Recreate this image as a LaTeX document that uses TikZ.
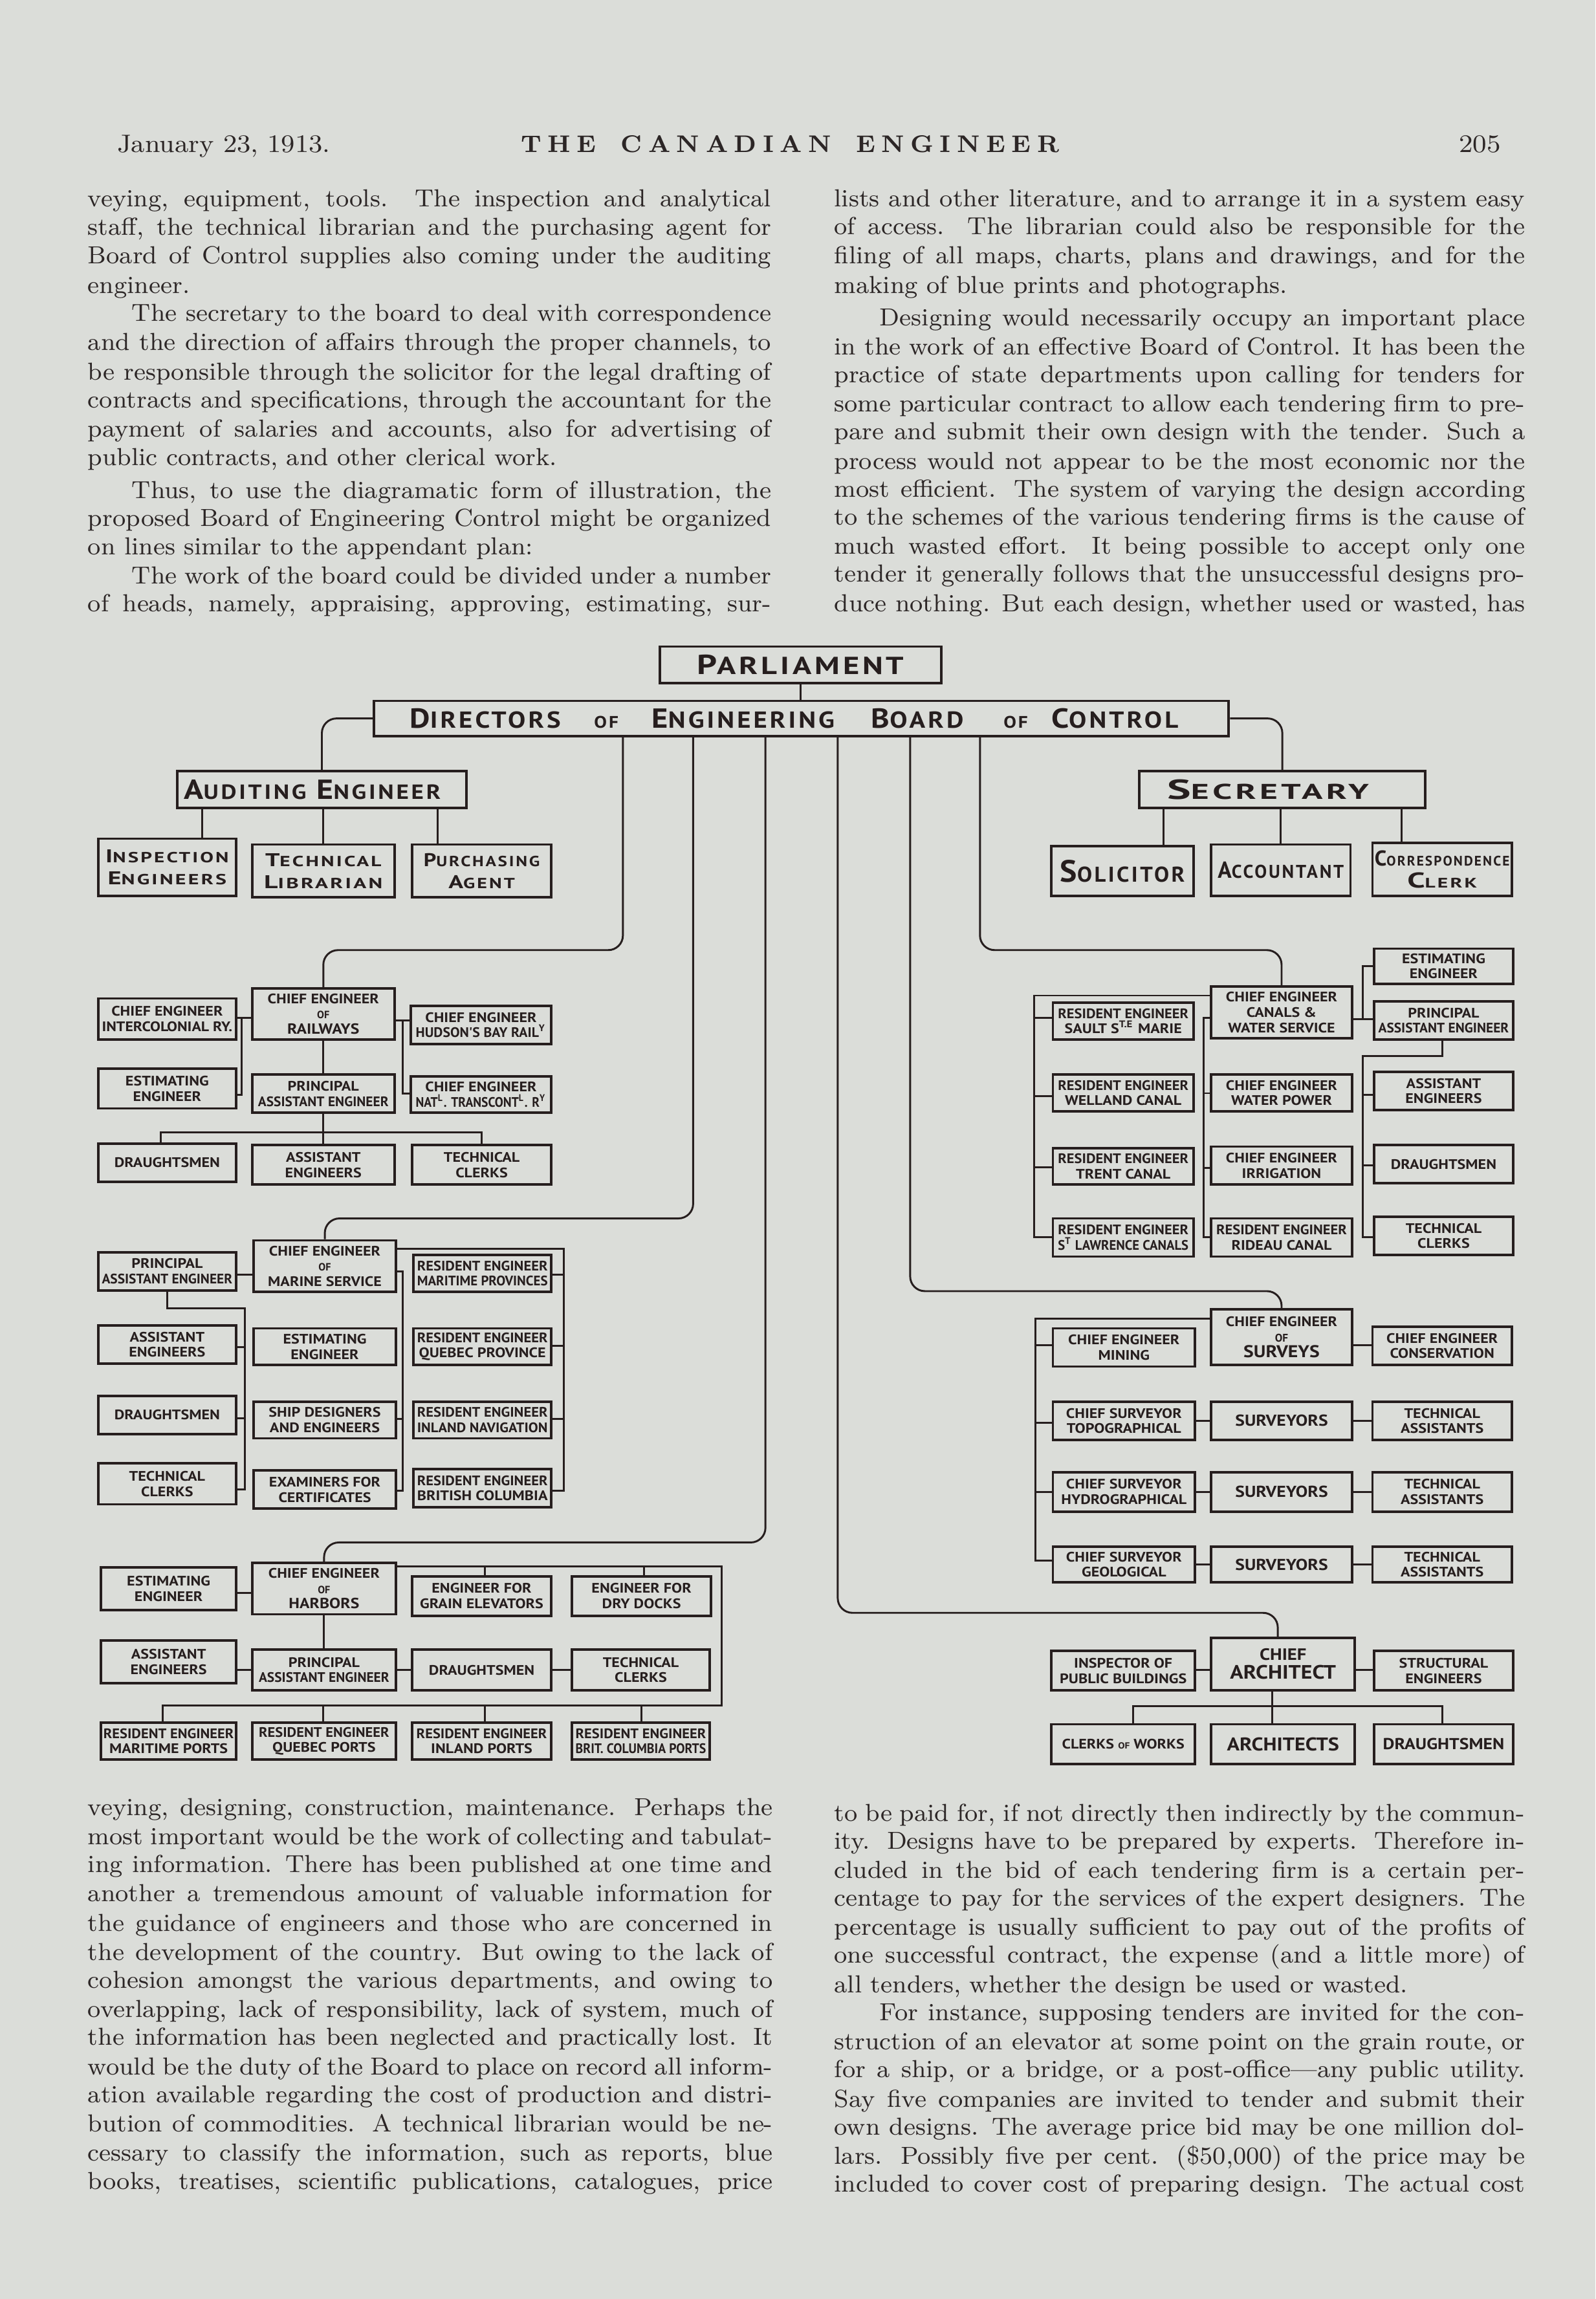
\documentclass[tikz,border=0pt]{standalone}
\usepackage{fontspec}
\usepackage{graphicx}
\newfontfamily\dg{PT Sans}
\newfontfamily\dgs[LetterSpace=10]{PT Sans}
\definecolor{paper}{RGB}{219,221,217}
\definecolor{ink}{RGB}{38,30,30}
\definecolor{textc}{RGB}{44,38,38}
\newsavebox\mybox
\newcommand\fs[1]{\fontsize{#1}{#1}\selectfont}
\newcommand\mx[2]{\sbox\mybox{\scalebox{1.13}[1]{#2}}\ifdim\wd\mybox>#1\relax\resizebox{#1}{\height}{\usebox\mybox}\else\usebox\mybox\fi}
\newcommand\fw[2]{\resizebox{#1}{\height}{#2}}
\newcommand\LB[2]{\mx{44.5pt}{#1}\\\mx{44.5pt}{#2}}
\newcommand\LA[1]{\mx{44.5pt}{#1}}
\newcommand\bx[7][]{\node[box,minimum width={(#5-#3)*0.5pt},minimum height={(#6-#4)*0.5pt},#1] (#2) at ({(#3+#5)/2},{(#4+#6)/2}) {#7};}
\newcommand\JL[5]{\node[body] (#1) at (#2,#3) {\makebox[#4pt][s]{#5}};}
\newcommand\LL[4]{\node[body] (#1) at (#2,#3) {#4};}
\begin{document}
\begin{tikzpicture}[x=0.5pt,y=-0.5pt,
 box/.style={draw=ink,line width=0.85pt,inner sep=0.2pt,align=center,text=ink,font=\dg\bfseries\fontsize{4.7}{5.2}\selectfont},
 big/.style={font=\dgs\bfseries\fontsize{6}{7.4}\selectfont},
 ln/.style={draw=ink,line width=0.65pt},
 rc/.style={ln,rounded corners=5pt},
 body/.style={anchor=base west,inner sep=0pt,outer sep=0pt,text=textc,font=\fontsize{8.4}{9.8}\selectfont},
]
\fill[paper] (0,0) rectangle (1088,1568);
\useasboundingbox (0,0) rectangle (1088,1568);

% ---------- header ----------
\node[anchor=base west,inner sep=0pt,text=textc,font=\fontsize{8.6}{10}\selectfont] (date) at (79.5,104) {\fw{72.7pt}{January 23, 1913.}};
\node[anchor=base west,inner sep=0pt,text=textc,font=\bfseries\fontsize{8.2}{9}\selectfont] (title) at (355,104) {\hbox to 183.5pt{T\hfil H\hfil E\hskip0pt plus4fil C\hfil A\hfil N\hfil A\hfil D\hfil I\hfil A\hfil N\hskip0pt plus4fil E\hfil N\hfil G\hfil I\hfil N\hfil E\hfil E\hfil R}};
\node[anchor=base west,inner sep=0pt,text=textc,font=\fontsize{8.6}{10}\selectfont] (pno) at (994.6,104) {\fw{14.2pt}{205}};

% ---------- top-left column ----------
\JL{a1}{60}{141}{233}{veying, equipment, tools. The inspection and analytical}
\JL{a2}{60}{160.5}{233}{staff, the technical librarian and the purchasing agent for}
\JL{a3}{60}{180}{233}{Board of Control supplies also coming under the auditing}
\LL{a4}{60}{200}{engineer.}
\JL{a5}{90}{219}{218}{The secretary to the board to deal with correspondence}
\JL{a6}{60}{239}{233}{and the direction of affairs through the proper channels, to}
\JL{a7}{60}{259}{233}{be responsible through the solicitor for the legal drafting of}
\JL{a8}{60}{278}{233}{contracts and specifications, through the accountant for the}
\JL{a9}{60}{298}{233}{payment of salaries and accounts, also for advertising of}
\LL{a10}{60}{317.5}{public contracts, and other clerical work.}
\JL{a11}{90}{340}{218}{Thus, to use the diagramatic form of illustration, the}
\JL{a12}{60}{359}{233}{proposed Board of Engineering Control might be organized}
\LL{a13}{60}{378.5}{on lines similar to the appendant plan:}
\JL{a14}{90}{398}{218}{The work of the board could be divided under a number}
\JL{a15}{60}{417}{233}{of heads, namely, appraising, approving, estimating, sur-}

% ---------- top-right column ----------
\JL{b1}{569}{141}{235.5}{lists and other literature, and to arrange it in a system easy}
\JL{b2}{569}{160}{235.5}{of access. The librarian could also be responsible for the}
\JL{b3}{569}{180}{235.5}{filing of all maps, charts, plans and drawings, and for the}
\LL{b4}{569}{200}{making of blue prints and photographs.}
\JL{b5}{600}{222}{220}{Designing would necessarily occupy an important place}
\JL{b6}{569}{242}{235.5}{in the work of an effective Board of Control. It has been the}
\JL{b7}{569}{261}{235.5}{practice of state departments upon calling for tenders for}
\JL{b8}{569}{281}{235.5}{some particular contract to allow each tendering firm to pre-}
\JL{b9}{569}{300}{235.5}{pare and submit their own design with the tender. Such a}
\JL{b10}{569}{320}{235.5}{process would not appear to be the most economic nor the}
\JL{b11}{569}{339}{235.5}{most efficient. The system of varying the design according}
\JL{b12}{569}{358}{235.5}{to the schemes of the various tendering firms is the cause of}
\JL{b13}{569}{378}{235.5}{much wasted effort. It being possible to accept only one}
\JL{b14}{569}{397}{235.5}{tender it generally follows that the unsuccessful designs pro-}
\JL{b15}{569}{417}{235.5}{duce nothing. But each design, whether used or wasted, has}

% ---------- bottom-left column ----------
\JL{c1}{60}{1238}{233.5}{veying, designing, construction, maintenance. Perhaps the}
\JL{c2}{60}{1258}{233.5}{most important would be the work of collecting and tabulat-}
\JL{c3}{60}{1277}{233.5}{ing information. There has been published at one time and}
\JL{c4}{60}{1297}{233.5}{another a tremendous amount of valuable information for}
\JL{c5}{60}{1317}{233.5}{the guidance of engineers and those who are concerned in}
\JL{c6}{60}{1337}{233.5}{the development of the country. But owing to the lack of}
\JL{c7}{60}{1356}{233.5}{cohesion amongst the various departments, and owing to}
\JL{c8}{60}{1376}{233.5}{overlapping, lack of responsibility, lack of system, much of}
\JL{c9}{60}{1395}{233.5}{the information has been neglected and practically lost. It}
\JL{c10}{60}{1415}{233.5}{would be the duty of the Board to place on record all inform-}
\JL{c11}{60}{1434}{233.5}{ation available regarding the cost of production and distri-}
\JL{c12}{60}{1454}{233.5}{bution of commodities. A technical librarian would be ne-}
\JL{c13}{60}{1474}{233.5}{cessary to classify the information, such as reports, blue}
\JL{c14}{60}{1493}{233.5}{books, treatises, scientific publications, catalogues, price}

% ---------- bottom-right column ----------
\JL{d1}{569}{1242}{235.5}{to be paid for, if not directly then indirectly by the commun-}
\JL{d2}{569}{1261}{235.5}{ity. Designs have to be prepared by experts. Therefore in-}
\JL{d3}{569}{1281}{235.5}{cluded in the bid of each tendering firm is a certain per-}
\JL{d4}{569}{1300}{235.5}{centage to pay for the services of the expert designers. The}
\JL{d5}{569}{1320}{235.5}{percentage is usually sufficient to pay out of the profits of}
\JL{d6}{569}{1339}{235.5}{one successful contract, the expense (and a little more) of}
\LL{d7}{569}{1359}{all tenders, whether the design be used or wasted.}
\JL{d8}{600}{1378}{220}{For instance, supposing tenders are invited for the con-}
\JL{d9}{569}{1398}{235.5}{struction of an elevator at some point on the grain route, or}
\JL{d10}{569}{1417}{235.5}{for a ship, or a bridge, or a post-office---any public utility.}
\JL{d11}{569}{1437}{235.5}{Say five companies are invited to tender and submit their}
\JL{d12}{569}{1456}{235.5}{own designs. The average price bid may be one million dol-}
\JL{d13}{569}{1476}{235.5}{lars. Possibly five per cent. (\$50,000) of the price may be}
\JL{d14}{569}{1495}{235.5}{included to cover cost of preparing design. The actual cost}

% ---------- top of chart ----------
\bx[big]{parl}{450}{441}{642}{466}{\fw{70.5pt}{\fs{9.4}P\fs{8.4}ARLIAMENT}}
\bx[big]{dir}{255}{478}{838}{502}{\fw{262pt}{\fs{9.4}D\fs{7.9}IRECTORS\hspace{10pt}\fs{5.7}OF\hspace{10pt}\fs{9.4}E\fs{7.9}NGINEERING\hspace{11pt}\fs{9.4}B\fs{7.9}OARD\hspace{12pt}\fs{5.7}OF\hspace{7pt}\fs{9.4}C\fs{7.9}ONTROL}\hspace{5pt}}
\bx[big]{aud}{121}{526}{318}{551}{\fw{87.5pt}{\fs{9.4}A\fs{7}UDITING\hspace{3pt}\fs{9.4}E\fs{7}NGINEER}\hspace{6.5pt}}
\bx[big]{sec}{777}{526}{972}{551}{\fw{68.7pt}{\fs{9.4}S\fs{7.3}ECRETARY}\hspace{9.7pt}}
\bx[big]{insp}{67}{572}{161}{611}{\fw{42pt}{\fs{6.3}I\fs{5}NSPECTION}\\\fw{40.5pt}{\fs{6.3}E\fs{5}NGINEERS}}
\bx[big]{tlib}{172}{576}{269}{612}{\fw{39.6pt}{\fs{6.3}T\fs{5}ECHNICAL}\\\fw{40.4pt}{\fs{6.3}L\fs{5}IBRARIAN}}
\bx[big]{purch}{281}{576}{376}{612}{\fw{39.6pt}{\fs{6.3}P\fs{5}URCHASING}\\\fw{22.6pt}{\fs{6.3}A\fs{5}GENT}}
\bx[big]{sol}{717}{577}{814}{611}{\fw{42.5pt}{\fs{10.5}S\fs{7.3}OLICITOR}}
\bx[big]{acc}{826}{576}{921}{611}{\fw{43pt}{\fs{7.9}A\fs{6.3}CCOUNTANT}}
\bx[big]{corr}{936}{575}{1031}{611}{\fw{46pt}{\fs{7.3}C\fs{4.7}ORRESPONDENCE}\\\fw{23.8pt}{\fs{7.3}C\fs{4.7}LERK}}

% ---------- railways ----------
\bx{rw}{172}{674}{269}{709}{\mx{44.5pt}{CHIEF ENGINEER}\\{\fs{3.6}OF}\\\mx{44.5pt}{\fs{5}RAILWAYS}}
\bx{icr}{67}{681}{161}{709}{\LB{CHIEF ENGINEER}{INTERCOLONIAL RY.}}
\bx{est1}{67}{729}{161}{756}{\LB{ESTIMATING}{ENGINEER}}
\bx{hbr}{280}{686}{376}{712}{\LB{CHIEF ENGINEER}{HUDSON'S BAY RAIL\textsuperscript{Y}}}
\bx{ntr}{280}{734}{376}{759}{\LB{CHIEF ENGINEER}{NAT\textsuperscript{L}. TRANSCONT\textsuperscript{L}. R\textsuperscript{Y}}}
\bx{pae1}{172}{733}{269}{759}{\LB{PRINCIPAL}{ASSISTANT ENGINEER}}
\bx{dr1}{67}{780}{161}{806}{\LA{DRAUGHTSMEN}}
\bx{ae1}{172}{781}{269}{808}{\LB{ASSISTANT}{ENGINEERS}}
\bx{tc1}{281}{781}{376}{808}{\LB{TECHNICAL}{CLERKS}}

% ---------- canals ----------
\bx{can}{826}{673}{922}{708}{\mx{44.5pt}{CHIEF ENGINEER}\\\mx{44.5pt}{CANALS \&}\\\mx{44.5pt}{WATER SERVICE}}
\bx{rsm}{718}{684}{814}{709}{\LB{RESIDENT ENGINEER}{SAULT S\textsuperscript{T.E} MARIE}}
\bx{rwc}{718}{733}{814}{758}{\LB{RESIDENT ENGINEER}{WELLAND CANAL}}
\bx{rtc}{718}{783}{814}{808}{\LB{RESIDENT ENGINEER}{TRENT CANAL}}
\bx{rsl}{718}{831}{814}{857}{\LB{RESIDENT ENGINEER}{S\textsuperscript{T} LAWRENCE CANALS}}
\bx{wp}{826}{733}{922}{758}{\LB{CHIEF ENGINEER}{WATER POWER}}
\bx{irr}{826}{782}{922}{808}{\LB{CHIEF ENGINEER}{IRRIGATION}}
\bx{rrc}{826}{831}{922}{857}{\LB{RESIDENT ENGINEER}{RIDEAU CANAL}}
\bx{est2}{937}{647}{1032}{671}{\LB{ESTIMATING}{ENGINEER}}
\bx{pae2}{937}{683}{1032}{709}{\LB{PRINCIPAL}{ASSISTANT ENGINEER}}
\bx{ae2}{937}{731}{1032}{757}{\LB{ASSISTANT}{ENGINEERS}}
\bx{dr2}{937}{781}{1032}{807}{\LA{DRAUGHTSMEN}}
\bx{tc2}{937}{830}{1032}{856}{\LB{TECHNICAL}{CLERKS}}

% ---------- marine ----------
\bx{mar}{173}{846}{270}{881}{\mx{44.5pt}{CHIEF ENGINEER}\\{\fs{3.6}OF}\\\mx{44.5pt}{MARINE SERVICE}}
\bx{pae3}{67}{854}{161}{880}{\LB{PRINCIPAL}{ASSISTANT ENGINEER}}
\bx{ae3}{67}{904}{161}{930}{\LB{ASSISTANT}{ENGINEERS}}
\bx{dr3}{67}{952}{161}{978}{\LA{DRAUGHTSMEN}}
\bx{tc3}{67}{998}{161}{1026}{\LB{TECHNICAL}{CLERKS}}
\bx{est3}{173}{906}{270}{931}{\LB{ESTIMATING}{ENGINEER}}
\bx{ship}{173}{956}{270}{981}{\LB{SHIP DESIGNERS}{AND ENGINEERS}}
\bx{exam}{173}{1003}{270}{1029}{\LB{EXAMINERS FOR}{CERTIFICATES}}
\bx{rmp}{282}{856}{376}{881}{\LB{RESIDENT ENGINEER}{MARITIME PROVINCES}}
\bx{rqp}{282}{906}{376}{931}{\LB{RESIDENT ENGINEER}{QUEBEC PROVINCE}}
\bx{rin}{282}{956}{376}{981}{\LB{RESIDENT ENGINEER}{INLAND NAVIGATION}}
\bx{rbc}{282}{1002}{376}{1028}{\LB{RESIDENT ENGINEER}{BRITISH COLUMBIA}}

% ---------- surveys ----------
\bx{sur}{826}{893}{922}{931}{\mx{44.5pt}{CHIEF ENGINEER}\\{\fs{3.8}OF}\\\mx{44.5pt}{\fs{5.8}SURVEYS}}
\bx{min}{718}{906}{815}{932}{\LB{CHIEF ENGINEER}{MINING}}
\bx{topo}{718}{956}{815}{982}{\LB{CHIEF SURVEYOR}{TOPOGRAPHICAL}}
\bx{hydro}{718}{1004}{815}{1031}{\LB{CHIEF SURVEYOR}{HYDROGRAPHICAL}}
\bx{geo}{718}{1055}{815}{1079}{\LB{CHIEF SURVEYOR}{GEOLOGICAL}}
\bx[font=\dg\bfseries\fs{5.4}]{sv1}{826}{956}{922}{982}{\LA{SURVEYORS}}
\bx[font=\dg\bfseries\fs{5.4}]{sv2}{826}{1004}{922}{1031}{\LA{SURVEYORS}}
\bx[font=\dg\bfseries\fs{5.4}]{sv3}{826}{1055}{922}{1079}{\LA{SURVEYORS}}
\bx{cons}{936}{905}{1031}{931}{\LB{CHIEF ENGINEER}{CONSERVATION}}
\bx{ta1}{936}{956}{1031}{982}{\LB{TECHNICAL}{ASSISTANTS}}
\bx{ta2}{936}{1004}{1031}{1031}{\LB{TECHNICAL}{ASSISTANTS}}
\bx{ta3}{936}{1055}{1031}{1079}{\LB{TECHNICAL}{ASSISTANTS}}

% ---------- harbors ----------
\bx{har}{172}{1066}{270}{1101}{\mx{44.5pt}{CHIEF ENGINEER}\\{\fs{3.6}OF}\\\mx{44.5pt}{\fs{5}HARBORS}}
\bx{est4}{69}{1069}{161}{1098}{\LB{ESTIMATING}{ENGINEER}}
\bx{ge}{281}{1075}{376}{1102}{\LB{ENGINEER FOR}{GRAIN ELEVATORS}}
\bx{dd}{390}{1075}{485}{1102}{\LB{ENGINEER FOR}{DRY DOCKS}}
\bx{ae4}{69}{1119}{161}{1148}{\LB{ASSISTANT}{ENGINEERS}}
\bx{pae4}{172}{1125}{270}{1153}{\LB{PRINCIPAL}{ASSISTANT ENGINEER}}
\bx{dr4}{281}{1125}{376}{1153}{\LA{DRAUGHTSMEN}}
\bx{tc4}{390}{1125}{484}{1153}{\LB{TECHNICAL}{CLERKS}}
\bx{rmp2}{69}{1175}{161}{1200}{\LB{RESIDENT ENGINEER}{MARITIME PORTS}}
\bx{rqp2}{172}{1175}{270}{1200}{\LB{RESIDENT ENGINEER}{QUEBEC PORTS}}
\bx{rip}{281}{1175}{376}{1200}{\LB{RESIDENT ENGINEER}{INLAND PORTS}}
\bx{rbcp}{390}{1175}{484}{1200}{\LB{RESIDENT ENGINEER}{BRIT. COLUMBIA PORTS}}

% ---------- architect ----------
\bx{arch}{826}{1117}{924}{1153}{\mx{44.5pt}{\fs{5.6}CHIEF}\\[1.2pt]\mx{44.5pt}{\fs{6.6}ARCHITECT}}
\bx{ipb}{717}{1126}{815}{1153}{\LB{INSPECTOR OF}{PUBLIC BUILDINGS}}
\bx{se}{937}{1126}{1032}{1153}{\LB{STRUCTURAL}{ENGINEERS}}
\bx{cow}{717}{1176}{815}{1203}{\LA{CLERKS {\fs{3}OF} WORKS}}
\bx[font=\dg\bfseries\fs{6.3}]{archs}{826}{1176}{924}{1203}{\LA{ARCHITECTS}}
\bx[font=\dg\bfseries\fs{5.4}]{dr5}{937}{1176}{1032}{1203}{\LA{DRAUGHTSMEN}}

% ---------- connectors: top ----------
\draw[ln] (parl.south) -- (parl.south |- dir.north);
\draw[rc] (dir.west) -| (aud.north);
\draw[rc] (dir.east) -| (sec.north);
\draw[ln] (138,0 |- aud.south) -- (138,0 |- insp.north);
\draw[ln] (tlib.north |- aud.south) -- (tlib.north);
\draw[ln] (298.6,0 |- aud.south) -- (298.6,0 |- purch.north);
\draw[ln] (793.6,0 |- sec.south) -- (793.6,0 |- sol.north);
\draw[ln] (acc.north |- sec.south) -- (acc.north);
\draw[ln] (956,0 |- sec.south) -- (956,0 |- corr.north);

% from directors to the chiefs
\draw[rc] (424.8,0 |- dir.south) -- (424.8,648) -- (220.5,648) -- (rw.north);
\draw[rc] (472.7,0 |- dir.south) -- (472.7,831) -- (221.5,831) -- (mar.north);
\draw[rc] (522,0 |- dir.south) -- (522,1052) -- (221,1052) -- (har.north);
\draw[rc] (571.3,0 |- dir.south) -- (571.3,1100) -- (871.4,1100) -- (871.4,0 |- arch.north);
\draw[rc] (620.7,0 |- dir.south) -- (620.7,880.6) -- (874,880.6) -- (sur.north);
\draw[rc] (668.3,0 |- dir.south) -- (668.3,648) -- (874,648) -- (can.north);

% railways
\draw[ln] (icr.east |- 0,694.4) -- (rw.west |- 0,694.4);
\draw[ln] (164.9,694.4) -- (164.9,746.7) -- (est1.east |- 0,746.7);
\draw[ln] (rw.east |- 0,696) -- (hbr.west |- 0,696);
\draw[ln] (274.7,696) -- (274.7,746) -- (ntr.west |- 0,746);
\draw[ln] (rw.south) -- (pae1.north);
\draw[ln] (pae1.south) -- (ae1.north);
\draw[ln] (109.7,0 |- dr1.north) -- (109.7,772.4) -- (328.4,772.4) -- (328.4,0 |- tc1.north);

% canals
\draw[ln] (can.west |- 0,679) -- (705.1,679) -- (705.1,843.8) -- (rsl.west |- 0,843.8);
\foreach \n/\yy in {rsm/694.4,rwc/747.4,rtc/796} \draw[ln] (705.1,\yy) -- (\n.west |- 0,\yy);
\draw[ln] (can.west |- 0,694.4) -- (821,694.4) -- (821,843.8) -- (rrc.west |- 0,843.8);
\foreach \n/\yy in {wp/745.6,irr/796.7} \draw[ln] (821,\yy) -- (\n.west |- 0,\yy);
\draw[ln] (can.east |- 0,695.2) -- (pae2.west |- 0,695.2);
\draw[ln] (929.4,695.2) -- (929.4,659.1) -- (est2.west |- 0,659.1);
\draw[ln] (983.6,0 |- pae2.south) -- (983.6,720.2) -- (929.4,720.2) -- (929.4,843.8) -- (tc2.west |- 0,843.8);
\foreach \n/\yy in {ae2/746.7,dr2/794.6} \draw[ln] (929.4,\yy) -- (\n.west |- 0,\yy);

% marine
\draw[ln] (pae3.east |- 0,869.5) -- (mar.west |- 0,869.5);
\draw[ln] (113.9,0 |- pae3.south) -- (113.9,892.3) -- (167,892.3) -- (167,1016) -- (tc3.east |- 0,1016);
\foreach \n/\yy in {ae3/918.8,dr3/967.4} \draw[ln] (167,\yy) -- (\n.east |- 0,\yy);
\draw[ln] (mar.east |- 0,867.3) -- (274.7,867.3) -- (274.7,1016.7) -- (exam.east |- 0,1016.7);
\draw[ln] (274.7,967.9) -- (ship.east |- 0,967.9);
\draw[ln] (mar.east |- 0,851.6) -- (384.7,851.6) -- (384.7,1016.7) -- (rbc.east |- 0,1016.7);
\foreach \n/\yy in {rmp/869.3,rqp/918,rin/967.9} \draw[ln] (384.7,\yy) -- (\n.east |- 0,\yy);

% surveys
\draw[ln] (sur.west |- 0,899.3) -- (706,899.3) -- (706,1064.5) -- (geo.west |- 0,1064.5);
\foreach \n/\yy in {min/917.3,topo/970.3,hydro/1017.4} \draw[ln] (706,\yy) -- (\n.west |- 0,\yy);
\draw[ln] (sur.east |- 0,917.3) -- (cons.west |- 0,917.3);
\draw[ln] (topo.east) -- (sv1.west);
\draw[ln] (sv1.east) -- (ta1.west);
\draw[ln] (hydro.east) -- (sv2.west);
\draw[ln] (sv2.east) -- (ta2.west);
\draw[ln] (geo.east) -- (sv3.west);
\draw[ln] (sv3.east) -- (ta3.west);

% harbors
\draw[ln] (est4.east |- 0,1086.5) -- (har.west |- 0,1086.5);
\draw[ln] (har.east |- 0,1068.4) -- (492.2,1068.4) -- (492.2,1163) -- (110.9,1163) -- (110.9,0 |- rmp2.north);
\draw[ln] (330.8,1068.4) -- (330.8,0 |- ge.north);
\draw[ln] (439.2,1068.4) -- (439.2,0 |- dd.north);
\draw[ln] (har.south) -- (pae4.north);
\draw[ln] (ae4.east |- 0,1138.8) -- (pae4.west |- 0,1138.8);
\draw[ln] (pae4.east) -- (dr4.west);
\draw[ln] (dr4.east) -- (tc4.west);
\draw[ln] (220.4,1163) -- (220.4,0 |- rqp2.north);
\draw[ln] (330.8,1163) -- (330.8,0 |- rip.north);
\draw[ln] (437.5,1163) -- (437.5,0 |- rbcp.north);

% architect
\draw[ln] (ipb.east |- 0,1138.8) -- (arch.west |- 0,1138.8);
\draw[ln] (arch.east |- 0,1138.8) -- (se.west |- 0,1138.8);
\draw[ln] (867.5,0 |- arch.south) -- (867.5,0 |- archs.north);
\draw[ln] (772.6,0 |- cow.north) -- (772.6,1163.8) -- (983.8,1163.8) -- (983.8,0 |- dr5.north);
\end{tikzpicture}
\end{document}
